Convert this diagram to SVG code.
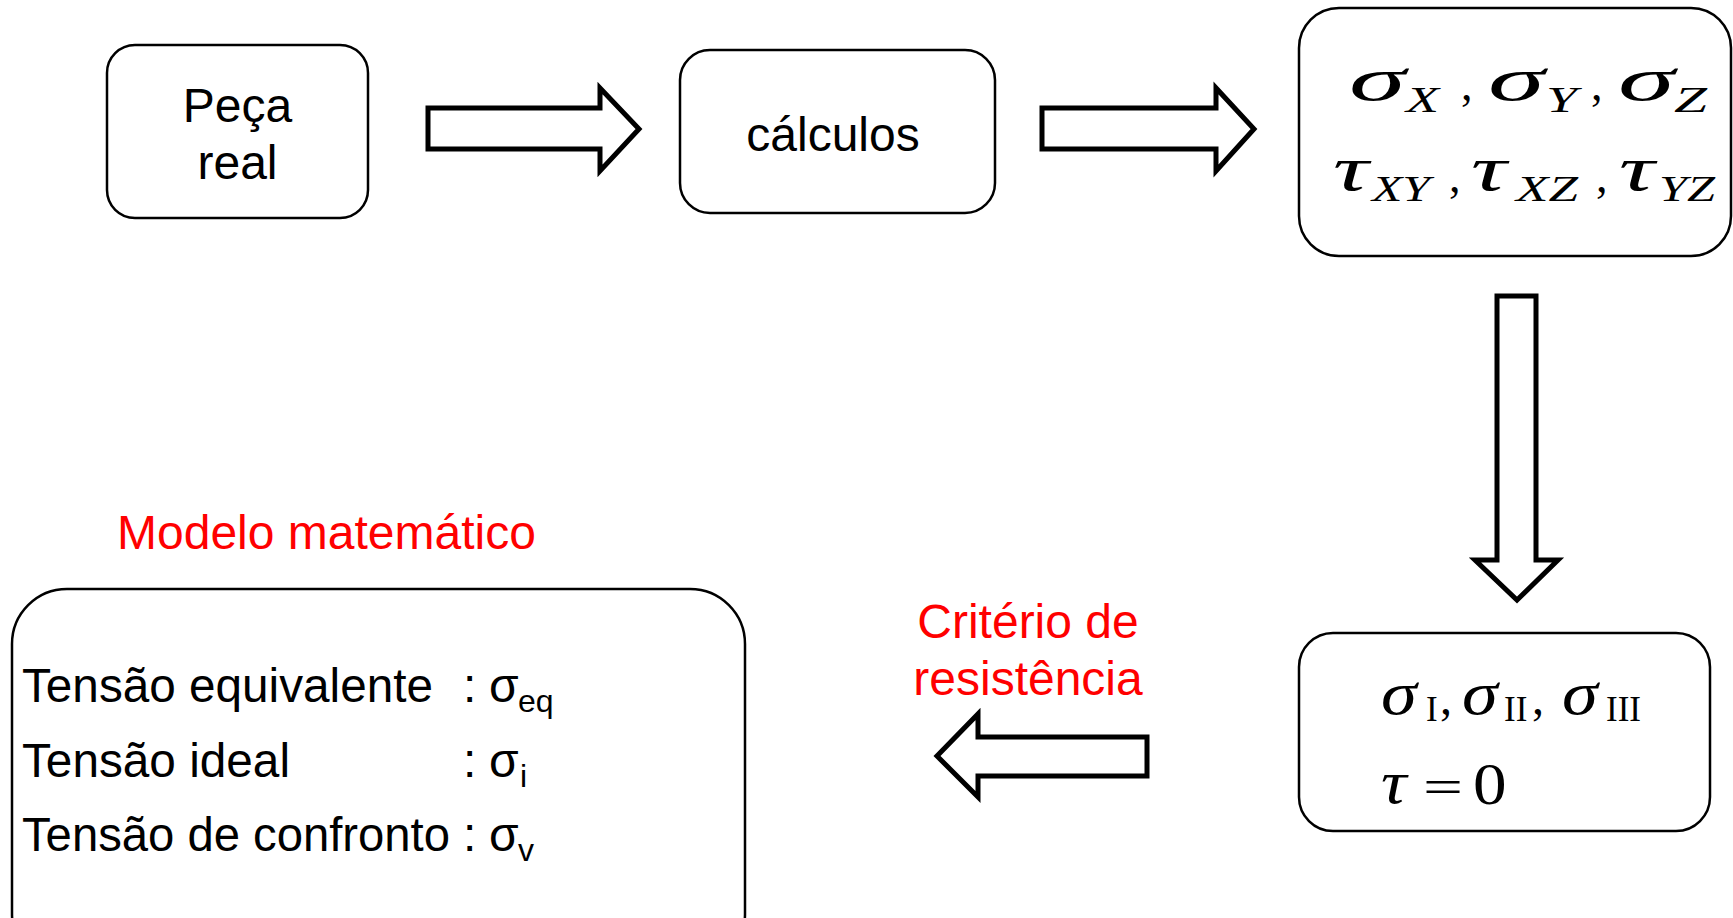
<svg xmlns="http://www.w3.org/2000/svg" width="1733" height="918" viewBox="0 0 1733 918">
<style>
.box{fill:#fff;stroke:#000;stroke-width:2.5}
.arr{fill:#fff;stroke:#000;stroke-width:5;stroke-linejoin:miter}
.t{font-family:"Liberation Sans",Arial,sans-serif;font-size:48px;fill:#000}
.s{font-family:"Liberation Sans",Arial,sans-serif;font-size:32px;fill:#000}
.r{font-family:"Liberation Sans",Arial,sans-serif;font-size:48px;fill:#ff0000}
.mi{font-family:"Liberation Serif","Times New Roman",serif;font-style:italic;fill:#000}
.mu{font-family:"Liberation Serif","Times New Roman",serif;fill:#000}
</style>
<rect width="1733" height="918" fill="#fff"/>
<g id="connectors">
<path class="arr" d="M428,108 H600 V88 L639,129 L600,171 V149 H428 Z"/>
<path class="arr" d="M1042,108 H1216 V88 L1254,129 L1216,171 V149 H1042 Z"/>
<path class="arr" d="M1497,296 H1536 V560 H1558 L1517,600 L1475,560 H1497 Z"/>
<path class="arr" d="M1147,737 V776 H978 V797 L937,756 L978,714 V737 Z"/>
</g>
<g id="peca">
<rect class="box" x="107" y="45" width="261" height="173" rx="28"/>
<text class="t" x="237.5" y="122" text-anchor="middle">Peça</text>
<text class="t" x="237.5" y="179" text-anchor="middle">real</text>
</g>
<g id="calculos">
<rect class="box" x="680" y="50" width="315" height="163" rx="30"/>
<text class="t" x="833" y="151" text-anchor="middle">cálculos</text>
</g>
<g id="tensoes">
<rect class="box" x="1299" y="8" width="432" height="248" rx="40"/>
<text class="mi" font-size="62" transform="translate(1349,100) scale(1.85,1)">σ</text>
<text class="mi" font-size="35" x="1406" y="112" textLength="33" lengthAdjust="spacingAndGlyphs">X</text>
<text class="mu" font-size="46" x="1461" y="100">,</text>
<text class="mi" font-size="62" transform="translate(1488,100) scale(1.85,1)">σ</text>
<text class="mi" font-size="35" x="1546" y="112" textLength="31" lengthAdjust="spacingAndGlyphs">Y</text>
<text class="mu" font-size="46" x="1591" y="100">,</text>
<text class="mi" font-size="62" transform="translate(1618,100) scale(1.85,1)">σ</text>
<text class="mi" font-size="35" x="1674" y="112" textLength="33" lengthAdjust="spacingAndGlyphs">Z</text>
<text class="mi" font-size="64" transform="translate(1333,190) scale(1.55,1)">τ</text>
<text class="mi" font-size="36" x="1372" y="201" textLength="58" lengthAdjust="spacingAndGlyphs">XY</text>
<text class="mu" font-size="46" x="1449" y="192">,</text>
<text class="mi" font-size="64" transform="translate(1471,190) scale(1.55,1)">τ</text>
<text class="mi" font-size="36" x="1516" y="201" textLength="62" lengthAdjust="spacingAndGlyphs">XZ</text>
<text class="mu" font-size="46" x="1596" y="192">,</text>
<text class="mi" font-size="64" transform="translate(1619,190) scale(1.55,1)">τ</text>
<text class="mi" font-size="36" x="1659" y="201" textLength="56" lengthAdjust="spacingAndGlyphs">YZ</text>
</g>
<g id="principais">
<rect class="box" x="1299" y="633" width="411" height="198" rx="34"/>
<text class="mi" font-size="62" transform="translate(1381,714) scale(1.17,1)">σ</text>
<text class="mu" font-size="35" x="1426" y="721">I</text>
<text class="mu" font-size="48" x="1440" y="714">,</text>
<text class="mi" font-size="62" transform="translate(1462,714) scale(1.17,1)">σ</text>
<text class="mu" font-size="35" x="1504" y="721">II</text>
<text class="mu" font-size="48" x="1532" y="714">,</text>
<text class="mi" font-size="62" transform="translate(1562,714) scale(1.17,1)">σ</text>
<text class="mu" font-size="35" x="1606" y="721">III</text>
<text class="mi" font-size="62" transform="translate(1381,803) scale(1.15,1)">τ</text>
<text class="mu" font-size="48" x="1423" y="803" textLength="40" lengthAdjust="spacingAndGlyphs">=</text>
<text class="mu" font-size="60" transform="translate(1473,804) scale(1.12,1)">0</text>
</g>
<g id="criterio">
<text class="r" x="1028" y="638" text-anchor="middle">Critério de</text>
<text class="r" x="1028" y="695" text-anchor="middle">resistência</text>
</g>
<g id="modelo">
<text class="r" x="117" y="549">Modelo matemático</text>
<rect class="box" x="12" y="589" width="733" height="380" rx="55"/>
<text class="t" x="22" y="702" textLength="411" lengthAdjust="spacingAndGlyphs">Tensão equivalente</text>
<text class="t" x="463" y="702">:</text>
<text class="t" x="489" y="702">σ</text>
<text class="s" x="518" y="712">eq</text>
<text class="t" x="22" y="777" textLength="268" lengthAdjust="spacingAndGlyphs">Tensão ideal</text>
<text class="t" x="463" y="777">:</text>
<text class="t" x="489" y="777">σ</text>
<text class="s" x="520" y="787">i</text>
<text class="t" x="22" y="851" textLength="428" lengthAdjust="spacingAndGlyphs">Tensão de confronto</text>
<text class="t" x="463" y="851">:</text>
<text class="t" x="489" y="851">σ</text>
<text class="s" x="518" y="861">v</text>
</g>
</svg>
